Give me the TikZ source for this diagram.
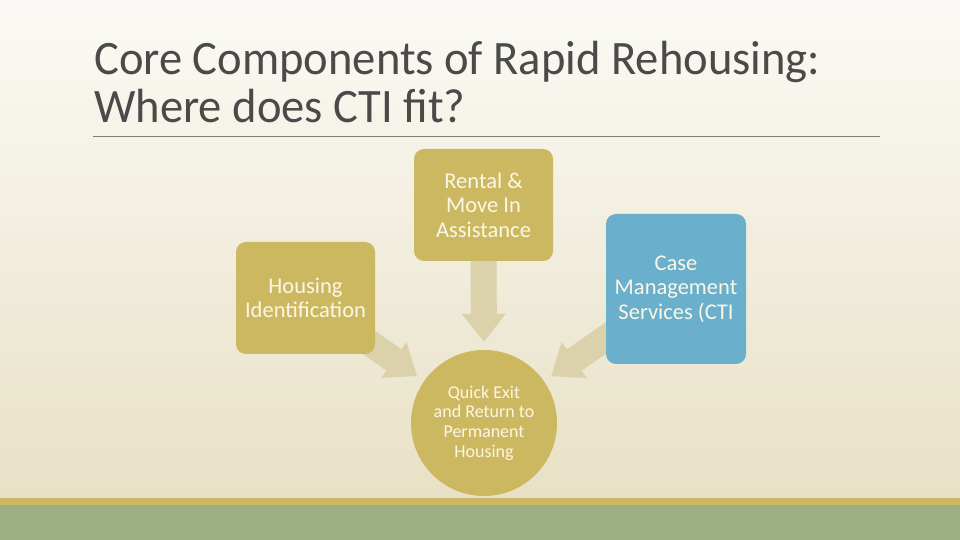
\documentclass[tikz,border=0pt]{standalone}
\usepackage{fontspec}
\setmainfont{Carlito}
\newfontfamily\titlefont[FakeStretch=0.97]{Carlito}
\usetikzlibrary{arrows.meta}

\definecolor{slidetan}{HTML}{CDB862}
\definecolor{slideblue}{HTML}{6AAFCB}
\definecolor{slidegreen}{HTML}{9BAF83}
\definecolor{arrowtan}{HTML}{DBD1AB}
\definecolor{boxtext}{HTML}{FBF7E6}
\definecolor{titlegray}{HTML}{4A4A4A}

\pgfdeclarelayer{slide}
\pgfdeclarelayer{flow}
\pgfsetlayers{slide,flow,main}

\tikzset{
  tanbox/.style={rectangle, rounded corners=10pt, fill=slidetan, text=boxtext,
    minimum width=139pt, minimum height=112pt, inner sep=0pt, align=center,
    font=\fontsize{22.5}{24.5}\selectfont},
  bluebox/.style={tanbox, fill=slideblue, minimum width=140pt, minimum height=150pt},
  exitdisc/.style={circle, fill=slidetan, text=boxtext, minimum size=146pt,
    inner sep=0pt, align=center, font=\fontsize{18}{19.7}\selectfont},
  fatarrow/.style={line width=26pt, draw=arrowtan,
    -{Triangle[length=28pt,width=44pt,line width=0pt]}}
}

\begin{document}
\begin{tikzpicture}[x=1pt,y=1pt]
  \useasboundingbox (0,0) rectangle (960,540);

  \begin{pgfonlayer}{slide}
    \shade[top color=white!60!arrowtan!30, bottom color=arrowtan!55!white!90!slidetan]
      (0,42) rectangle (960,540);
    \fill[slidetan] (0,35) rectangle (960,42);
    \fill[slidegreen] (0,0) rectangle (960,35);
    \draw[gray, line width=0.8pt] (93,404) -- (880,404);
  \end{pgfonlayer}

  \node[anchor=north west, inner sep=0pt, align=left, text=titlegray,
    font=\titlefont\fontsize{48}{48}\selectfont] (title) at (94,499)
    {Core Components of Rapid Rehousing:\\Where does CTI fit?};

  \node[tanbox] (rent) at (483.5,335) {Rental \&\\Move In\\Assistance};
  \node[tanbox] (house) at (305.5,242) {Housing\\Identification};
  \node[bluebox] (case) at (676,251) {Case\\Management\\Services (CTI};
  \node[exitdisc] (exit) at (484,117) {Quick Exit\\and Return to\\Permanent\\Housing};

  \begin{pgfonlayer}{flow}
    \draw[fatarrow, shorten >=8pt] (rent.south) -- (exit.north);
    \draw[fatarrow, shorten >=82pt] (house.center) -- (exit.center);
    \draw[fatarrow, shorten >=82pt] (case.center) -- (exit.center);
  \end{pgfonlayer}
\end{tikzpicture}
\end{document}
